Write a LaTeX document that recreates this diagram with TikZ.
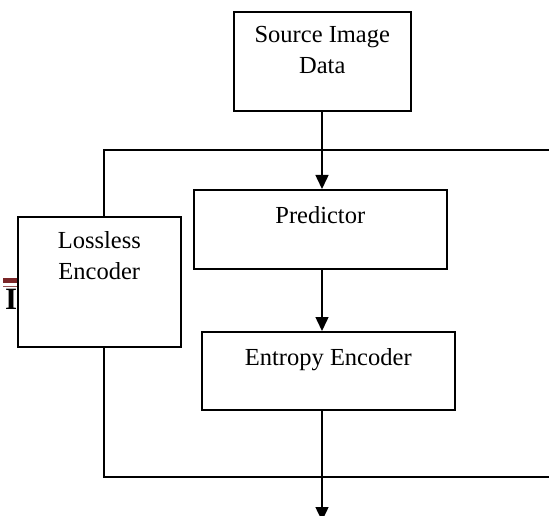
\documentclass[tikz,border=0pt]{standalone}
\usepackage{fontspec}
\setmainfont{Liberation Serif}
\usetikzlibrary{arrows.meta}
\definecolor{barred}{RGB}{122,38,40}
\tikzset{
  box/.style={draw, line width=1.6pt, fill=white, rectangle, inner sep=0pt, anchor=north west},
  txt/.style={inner sep=0pt, align=center, anchor=north, font=\fontsize{24.5}{31}\selectfont},
  conn/.style={line width=1.5pt},
  arr/.style={conn, -{Triangle[length=14pt,width=13pt]}}
}
\begin{document}
\begin{tikzpicture}[x=1pt,y=-1pt]
\clip (0,0) rectangle (549,516);
\fill[white] (0,0) rectangle (549,516);
% outer frame (open to the right)
\coordinate (ftr) at (549,150);
\coordinate (ftl) at (104,150);
\coordinate (fbl) at (104,477);
\coordinate (fbr) at (549,477);
\draw[conn] (ftr) -- (ftl) -- (fbl) -- (fbr);
% fragments at the left edge
\draw[barred, line width=5pt] (3,280) -- (22,280);
\draw[barred!80, line width=1pt] (3,286) -- (22,286);
\node[inner sep=0pt, anchor=base west, font=\fontsize{31}{36}\selectfont\bfseries] (ifrag) at (5,309) {I};
% boxes
\node[box, minimum width=177pt, minimum height=99pt] (src) at (233,11) {};
\node[box, minimum width=253pt, minimum height=79pt] (pred) at (193,189) {};
\node[box, minimum width=253pt, minimum height=78pt] (ent) at (201,331) {};
\node[box, minimum width=163pt, minimum height=130pt] (loss) at (17,216) {};
% texts
\node[txt] (srct) at ([yshift=-15pt]src.north) {Source Image\\Data};
\node[txt] (predt) at ([yshift=-17pt]pred.north) {Predictor};
\node[txt] (entt) at ([yshift=-17pt]ent.north) {Entropy Encoder};
\node[txt] (losst) at ([yshift=-15pt]loss.north) {Lossless\\Encoder};
% connectors
\coordinate (axis) at (322,0);
\coordinate (outend) at (322,521);
\draw[arr] (src.south -| axis) -- (pred.north -| axis);
\draw[arr] (pred.south -| axis) -- (ent.north -| axis);
\draw[arr] (ent.south -| axis) -- (outend);
\end{tikzpicture}
\end{document}
